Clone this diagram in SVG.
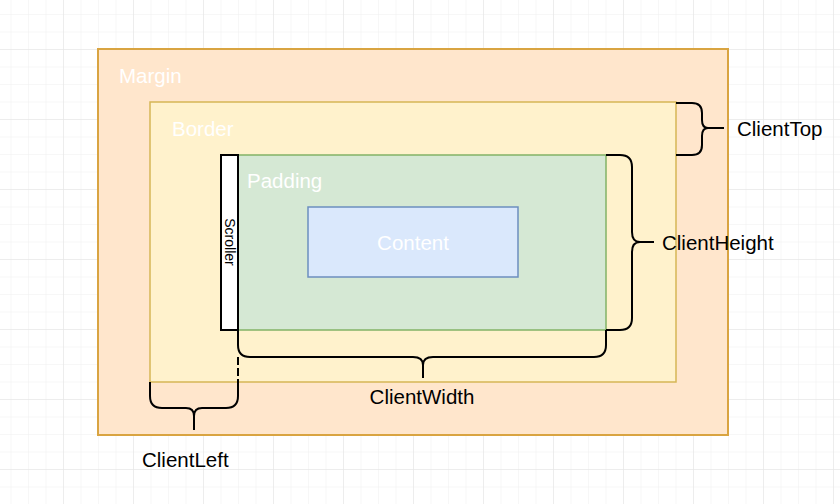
<svg xmlns="http://www.w3.org/2000/svg" width="840" height="504" viewBox="0 0 840 504">
  <defs>
    <pattern id="gmin" patternUnits="userSpaceOnUse" x="10.5" y="14" width="17.5" height="17.5">
      <path d="M0,0 H17.5 M0,0 V17.5" fill="none" stroke="#f0f0f0" stroke-width="1"/>
    </pattern>
    <pattern id="gmaj" patternUnits="userSpaceOnUse" x="63" y="49" width="70" height="70">
      <path d="M0,0 H70 M0,0 V70" fill="none" stroke="#e4e4e4" stroke-width="1"/>
    </pattern>
  </defs>
  <style>
    .lbl { font-family: "Liberation Sans", Arial, sans-serif; font-size: 20.5px; fill: #ffffff; }
    .dim { font-family: "Liberation Sans", Arial, sans-serif; font-size: 20.5px; fill: #000000; }
    .brace { fill: none; stroke: #000000; stroke-width: 2; stroke-linejoin: round; }
  </style>
  <rect width="840" height="504" fill="#ffffff"/>
  <rect width="840" height="504" fill="url(#gmin)"/>
  <rect width="840" height="504" fill="url(#gmaj)"/>

  <g id="margin">
    <rect x="98" y="49" width="630" height="386" fill="#ffe6cc" stroke="#d9a441" stroke-width="2"/>
    <text class="lbl" x="119" y="83">Margin</text>
  </g>
  <g id="border">
    <rect x="150" y="102" width="526" height="280" fill="#fff2cc" stroke="#d6b656" stroke-width="1.5"/>
    <text class="lbl" x="172" y="136">Border</text>
  </g>
  <g id="padding">
    <rect x="238" y="155" width="368" height="175" fill="#d5e8d4" stroke="#82b366" stroke-width="1.5"/>
    <text class="lbl" x="247" y="188">Padding</text>
  </g>
  <g id="scroller">
    <rect x="221" y="155" width="17" height="175" fill="#ffffff" stroke="#000000" stroke-width="2"/>
    <text x="0" y="0" transform="translate(224.5,242) rotate(90)" text-anchor="middle" font-family="Liberation Sans, Arial, sans-serif" font-size="14" fill="#000000">Scroller</text>
  </g>
  <g id="content">
    <rect x="308" y="207" width="210" height="70" fill="#dae8fc" stroke="#6c8ebf" stroke-width="1.5"/>
    <text class="lbl" x="413" y="250" text-anchor="middle">Content</text>
  </g>

  <g id="connectors">
    <path class="brace" d="M676,103 H692 Q702,103 702,113 V120 Q702,128 708,128 Q702,128 702,136 V145 Q702,155 692,155 H676 M708,128 H724"/>
    <path class="brace" d="M606,155 H620 Q632,155 632,167 V232 Q632,242 640,242 Q632,242 632,252 V318 Q632,330 620,330 H606 M640,242 H654"/>
    <path class="brace" d="M238,330 V345 Q238,357 250,357 H413 Q423,357 423,365 Q423,357 433,357 H594 Q606,357 606,345 V330 M423,365 V378"/>
    <path class="brace" d="M150,382 V396 Q150,408 162,408 H186 Q194,408 194,416 Q194,408 202,408 H226 Q238,408 238,396 V382 M194,416 V430"/>
    <path class="brace" d="M238,357 V382" stroke-dasharray="8 3"/>
  </g>

  <g id="dim-labels">
    <text class="dim" x="737" y="136">ClientTop</text>
    <text class="dim" x="662" y="250">ClientHeight</text>
    <text class="dim" x="422" y="404" text-anchor="middle">ClientWidth</text>
    <text class="dim" x="142" y="467">ClientLeft</text>
  </g>
</svg>
